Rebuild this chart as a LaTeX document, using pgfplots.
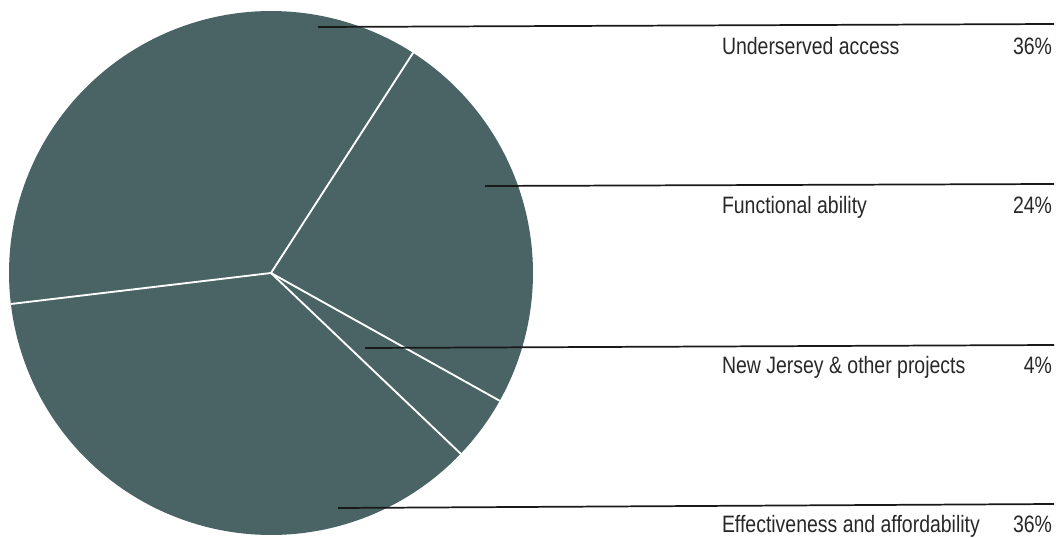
\documentclass[border=0pt]{standalone}
\usepackage{pgfplots}
\pgfplotsset{compat=1.18}
\usepackage{pgfplotstable}
\usepackage{fontspec}
\setmainfont{Liberation Sans}[FakeStretch=0.82]
\definecolor{piecol}{RGB}{74,99,101}
\definecolor{txt}{RGB}{40,40,40}
\tikzset{lbl/.style={font=\fontsize{17.8}{20}\selectfont, text=txt, inner sep=0pt, outer sep=0pt}}
% share (%) of each slice, counter-clockwise from 57.2 deg
\pgfplotstableread{
label pct start end
Underserved 36 57.2 186.8
Effectiveness 36 186.8 316.4
NewJersey 4 316.4 330.8
Functional 24 330.8 417.2
}\slices
\begin{document}
\begin{tikzpicture}
\begin{axis}[
  width=793.5pt, height=402.75pt, scale only axis,
  xmin=0, xmax=1058, ymin=0, ymax=537,
  axis lines=none, clip=false,
]
% slices
\addplot[fill=piecol, draw=none, domain=57.2:186.8, samples=80] ({271+262*cos(x)},{264+262*sin(x)}) -- (271,264) -- cycle;
\addplot[fill=piecol, draw=none, domain=186.8:316.4, samples=80] ({271+262*cos(x)},{264+262*sin(x)}) -- (271,264) -- cycle;
\addplot[fill=piecol, draw=none, domain=316.4:330.8, samples=12] ({271+262*cos(x)},{264+262*sin(x)}) -- (271,264) -- cycle;
\addplot[fill=piecol, draw=none, domain=330.8:417.2, samples=60] ({271+262*cos(x)},{264+262*sin(x)}) -- (271,264) -- cycle;
% separators
\addplot[white, line width=1.4pt] coordinates {(271,264) (413.1,484.2)};
\addplot[white, line width=1.4pt] coordinates {(271,264) (10.8,233.0)};
\addplot[white, line width=1.4pt] coordinates {(271,264) (460.7,83.3)};
\addplot[white, line width=1.4pt] coordinates {(271,264) (499.7,136.2)};
% leader lines
\addplot[black!90, line width=1.3pt] coordinates {(318,510) (1054,513)};
\addplot[black!90, line width=1.3pt] coordinates {(485,351) (1054,353)};
\addplot[black!90, line width=1.3pt] coordinates {(365,189) (1054,192)};
\addplot[black!90, line width=1.3pt] coordinates {(338,29) (1054,33)};
% labels
\node[lbl, anchor=base west] at (722,483) {Underserved access};
\node[lbl, anchor=base east] at (1052,483) {36\%};
\node[lbl, anchor=base west] at (722,324) {Functional ability};
\node[lbl, anchor=base east] at (1052,324) {24\%};
\node[lbl, anchor=base west] at (722,164) {New Jersey \& other projects};
\node[lbl, anchor=base east] at (1052,164) {4\%};
\node[lbl, anchor=base west] at (722,5) {Effectiveness and affordability};
\node[lbl, anchor=base east] at (1052,5) {36\%};
\end{axis}
\pgfresetboundingbox
\useasboundingbox (current axis.south west) rectangle (current axis.north east);
\end{tikzpicture}
\end{document}
